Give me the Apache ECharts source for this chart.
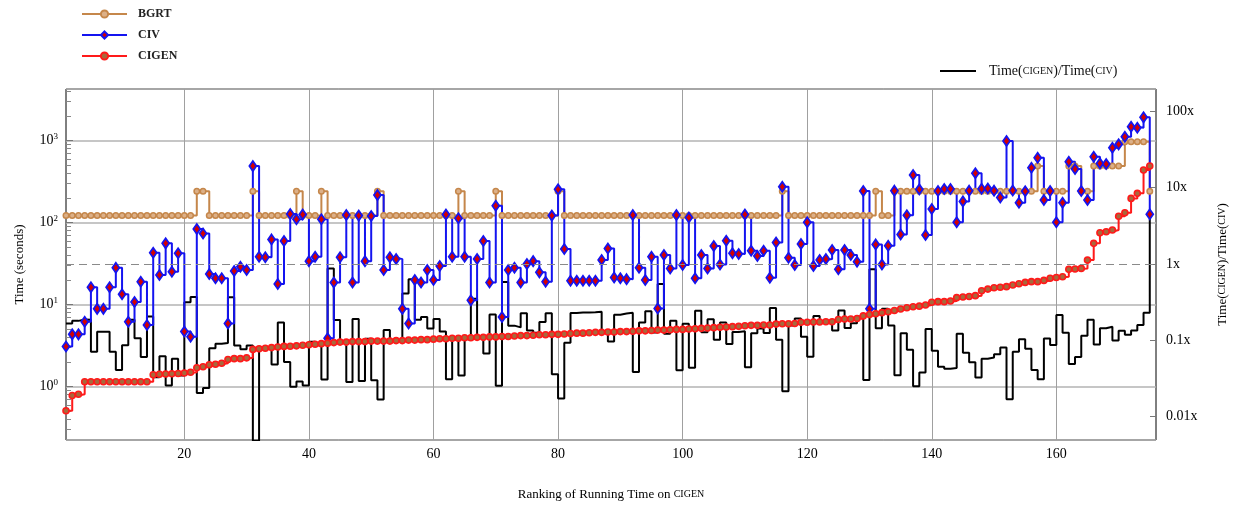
<!DOCTYPE html>
<html>
<head>
<meta charset="utf-8">
<title>Running time ranking</title>
<script src="https://cdn.jsdelivr.net/npm/echarts@6.0.0/dist/echarts.min.js"></script>
<style>
  html, body { margin: 0; padding: 0; background: #fff; }
  #chart { width: 1234px; height: 506px; }
</style>
</head>
<body>
<div id="chart"></div>
<script>
// time in seconds, ranked by cigen time (rank 1..175)
var civ = [
  3.1, 4.35, 4.35, 6.2, 16.3, 8.9, 8.9, 16.3, 28.3, 13.4,
  6.2, 10.8, 19.1, 5.65, 43, 23, 56, 25.3, 42.3, 4.7,
  4.07, 84, 74, 23.7, 21, 21, 5.9, 25.8, 29, 26.5,
  490, 38.5, 38, 62.6, 17.9, 59.8, 128, 110, 126, 34,
  38.5, 110, 3.9, 18.7, 37.8, 124, 18.7, 122, 34, 121,
  217, 26.5, 37.8, 36, 8.9, 5.9, 20, 18.7, 26.5, 20,
  29.6, 126, 38.5, 113, 38.5, 11.3, 36, 59.8, 18.7, 161,
  7.1, 26.5, 28.3, 18.7, 31.3, 34, 24.8, 19.1, 122, 255,
  47.7, 19.6, 19.6, 19.6, 19.6, 19.6, 35, 48.6, 21.5, 21,
  20.5, 124, 28.3, 20, 38.5, 9.0, 40.4, 27.7, 124, 30.5,
  116, 21, 40.4, 27.7, 52, 31, 60.3, 42.3, 41.5, 126,
  45.6, 39.3, 45.6, 21.3, 57.5, 275, 37.4, 30.5, 55, 101,
  29.6, 35, 36, 46.4, 27, 46.4, 40.4, 33.4, 243, 8.9,
  54.4, 31, 52.4, 246, 72, 123, 381, 255, 70.7, 147,
  243, 258, 258, 101, 182, 246, 400, 260, 262, 246,
  203, 991, 247, 175, 242, 469, 621, 189, 243, 101,
  175, 554, 451, 243, 189, 638, 529, 519, 822, 902,
  1119, 1482, 1442, 1926, 127
];
var cigen = [
  0.51, 0.78, 0.81, 1.15, 1.15, 1.15, 1.15, 1.15, 1.15, 1.15,
  1.15, 1.15, 1.15, 1.15, 1.4, 1.42, 1.43, 1.44, 1.45, 1.47,
  1.5, 1.7, 1.75, 1.85, 1.88, 1.93, 2.15, 2.2, 2.2, 2.25,
  2.85, 2.9, 2.95, 3.0, 3.05, 3.1, 3.12, 3.15, 3.2, 3.25,
  3.3, 3.35, 3.4, 3.45, 3.5, 3.5, 3.55, 3.55, 3.55, 3.6,
  3.6, 3.6, 3.6, 3.65, 3.65, 3.7, 3.7, 3.75, 3.75, 3.8,
  3.85, 3.85, 3.9, 3.9, 3.95, 3.95, 4.0, 4.0, 4.05, 4.05,
  4.1, 4.1, 4.15, 4.2, 4.2, 4.25, 4.3, 4.3, 4.35, 4.35,
  4.4, 4.45, 4.5, 4.5, 4.55, 4.6, 4.6, 4.65, 4.65, 4.7,
  4.7, 4.75, 4.8, 4.8, 4.85, 4.9, 4.9, 4.95, 5.0, 5.0,
  5.05, 5.1, 5.15, 5.2, 5.25, 5.3, 5.35, 5.4, 5.45, 5.55,
  5.6, 5.6, 5.65, 5.65, 5.8, 5.85, 5.85, 5.9, 6.1, 6.1,
  6.15, 6.15, 6.2, 6.2, 6.6, 6.7, 6.7, 6.8, 7.3, 7.6,
  7.77, 8.0, 8.2, 8.5, 8.85, 9.2, 9.45, 9.6, 9.9, 10.7,
  10.9, 10.9, 11.1, 12.2, 12.4, 12.6, 12.9, 14.8, 15.5, 16.1,
  16.3, 16.6, 17.4, 18.0, 18.7, 19.1, 19.1, 19.8, 21, 21.5,
  21.9, 27, 27.2, 27.7, 35, 56, 75.5, 77.7, 81.5, 120,
  132, 198, 228, 439, 491
];
var bgrt = [
  122, 122, 122, 122, 122, 122, 122, 122, 122, 122,
  122, 122, 122, 122, 122, 122, 122, 122, 122, 122,
  122, 242, 242, 122, 122, 122, 122, 122, 122, 122,
  242, 122, 122, 122, 122, 122, 122, 242, 122, 122,
  122, 242, 122, 122, 122, 122, 122, 122, 122, 122,
  242, 122, 122, 122, 122, 122, 122, 122, 122, 122,
  122, 122, 122, 242, 122, 122, 122, 122, 122, 242,
  122, 122, 122, 122, 122, 122, 122, 122, 122, 242,
  122, 122, 122, 122, 122, 122, 122, 122, 122, 122,
  122, 122, 122, 122, 122, 122, 122, 122, 122, 122,
  122, 122, 122, 122, 122, 122, 122, 122, 122, 122,
  122, 122, 122, 122, 122, 242, 122, 122, 122, 122,
  122, 122, 122, 122, 122, 122, 122, 122, 122, 122,
  242, 122, 122, 242, 242, 242, 242, 242, 242, 242,
  242, 242, 242, 242, 242, 242, 242, 242, 242, 242,
  242, 242, 242, 242, 242, 242, 490, 242, 242, 242,
  242, 490, 490, 242, 242, 490, 490, 490, 490, 490,
  970, 970, 970, 970, 242
];
// Time(cigen)/Time(civ)
var ratio = [
  0.165, 0.179, 0.186, 0.185, 0.0706, 0.129, 0.129, 0.0706, 0.0406, 0.0858,
  0.185, 0.106, 0.0602, 0.204, 0.0326, 0.0617, 0.0255, 0.0569, 0.0343, 0.313,
  0.369, 0.0202, 0.0236, 0.078, 0.0895, 0.0919, 0.364, 0.0853, 0.0759, 0.0849,
  0.0048, 0.0753, 0.0776, 0.0479, 0.170, 0.0518, 0.0244, 0.0286, 0.0254, 0.0956,
  0.0857, 0.0305, 0.872, 0.184, 0.0926, 0.0282, 0.190, 0.0291, 0.104, 0.0298,
  0.0166, 0.136, 0.0952, 0.101, 0.410, 0.627, 0.185, 0.201, 0.142, 0.190,
  0.130, 0.0306, 0.101, 0.0345, 0.103, 0.350, 0.111, 0.0669, 0.217, 0.0252,
  0.577, 0.155, 0.147, 0.225, 0.134, 0.125, 0.173, 0.225, 0.0357, 0.0171,
  0.0922, 0.227, 0.230, 0.230, 0.232, 0.235, 0.131, 0.0957, 0.216, 0.224,
  0.229, 0.0383, 0.170, 0.240, 0.126, 0.544, 0.121, 0.179, 0.0403, 0.164,
  0.0435, 0.243, 0.127, 0.188, 0.101, 0.171, 0.0887, 0.128, 0.131, 0.0440,
  0.123, 0.142, 0.124, 0.265, 0.101, 0.0213, 0.156, 0.193, 0.111, 0.0604,
  0.208, 0.176, 0.172, 0.134, 0.244, 0.144, 0.166, 0.204, 0.030, 0.854,
  0.143, 0.258, 0.156, 0.0346, 0.123, 0.0748, 0.0248, 0.0376, 0.140, 0.0728,
  0.0449, 0.0422, 0.0430, 0.121, 0.0681, 0.0512, 0.0323, 0.0569, 0.0592, 0.0654,
  0.0803, 0.0168, 0.0704, 0.103, 0.0773, 0.0407, 0.0308, 0.105, 0.0864, 0.213,
  0.125, 0.0487, 0.0603, 0.114, 0.185, 0.0878, 0.143, 0.150, 0.0991, 0.133,
  0.118, 0.134, 0.158, 0.228, 3.87
];
var xTicks = [20, 40, 60, 80, 100, 120, 140, 160];

var ranks = [];
for (var r = 1; r <= civ.length; r++) ranks.push(r);
function pairs(vals) {
  return ranks.map(function (x, i) { return [x, vals[i]]; });
}

// axis ranges
var yMin = 0.224, yMax = 4270;
var rMin = 0.0049, rMax = 197;

// minor ticks 2..9 of every decade on the left axis (drawn on a hidden linear axis in log space)
var minorTicks = [];
for (var e = -1; e <= 3; e++) {
  for (var k = 2; k <= 9; k++) {
    var v = k * Math.pow(10, e);
    if (v > yMin && v < yMax) minorTicks.push(Math.log10(v));
  }
}

var FONT = "'Liberation Serif', 'DejaVu Serif', serif";

var myChart = echarts.init(document.getElementById("chart"));
myChart.setOption({
  animation: false,
  textStyle: { fontFamily: FONT, color: "#000" },
  grid: {
    left: 66,
    right: 78,
    top: 89,
    bottom: 66,
    outerBoundsMode: "none",
    show: true,
    borderColor: "#000",
    borderWidth: 1,
  },
  legend: [
    {
      data: ["BGRT", "CIV", "CIGEN"],
      orient: "vertical",
      left: 76,
      top: 3,
      itemWidth: 45,
      itemHeight: 9,
      itemGap: 9,
      textStyle: { fontFamily: FONT, fontSize: 12, fontWeight: "bold", color: "#222", padding: [0, 0, 0, 6] },
    },
    {
      data: [{ name: "ratio", icon: "rect" }],
      left: 935,
      top: 59,
      itemWidth: 36,
      itemHeight: 2,
      formatter: function () {
        return "Time({s|CIGEN})/Time({s|CIV})";
      },
      textStyle: {
        fontFamily: FONT,
        fontSize: 14,
        color: "#111",
        padding: [0, 0, 0, 8],
        rich: { s: { fontFamily: FONT, fontSize: 10, color: "#111" } },
      },
    },
  ],
  xAxis: {
    type: "value",
    min: 1,
    max: 176,
    name: "Ranking of Running Time on {s|CIGEN}",
    nameLocation: "middle",
    nameGap: 48,
    nameTextStyle: {
      fontFamily: FONT,
      fontSize: 13,
      rich: { s: { fontFamily: FONT, fontSize: 10 } },
    },
    axisLine: { show: false },
    axisTick: { show: false, customValues: xTicks },
    axisLabel: { customValues: xTicks, fontSize: 14, margin: 7, color: "#000" },
    splitLine: { show: true, lineStyle: { color: "#a0a0a0", width: 1 } },
  },
  yAxis: [
    {
      type: "log",
      logBase: 10,
      min: yMin,
      max: yMax,
      position: "left",
      name: "Time (seconds)",
      nameLocation: "middle",
      nameRotate: 90,
      nameGap: 40,
      nameTextStyle: { fontFamily: FONT, fontSize: 13 },
      axisLine: { show: false },
      axisTick: { show: true, inside: true, length: 7, lineStyle: { color: "#777" } },
      axisLabel: {
        showMinLabel: false,
        showMaxLabel: false,
        margin: 8,
        formatter: function (v) {
          return "{b|10}{s|" + Math.round(Math.log10(v)) + "}";
        },
        rich: {
          b: { fontFamily: FONT, fontSize: 14, color: "#000" },
          s: { fontFamily: FONT, fontSize: 9, color: "#000", padding: [0, 0, 9, 0] },
        },
      },
      splitLine: { show: true, lineStyle: { color: "#b3b3b3", width: 1.5 } },
    },
    {
      type: "value",
      min: Math.log10(yMin),
      max: Math.log10(yMax),
      position: "left",
      axisLine: { show: false },
      axisLabel: { show: false },
      splitLine: { show: false },
      axisTick: {
        show: true,
        inside: true,
        length: 5,
        customValues: minorTicks,
        lineStyle: { color: "#888" },
      },
    },
    {
      type: "log",
      logBase: 10,
      min: rMin,
      max: rMax,
      position: "right",
      name: "Time({s|CIGEN})/Time({s|CIV})",
      nameLocation: "middle",
      nameRotate: 90,
      nameGap: 60,
      nameTextStyle: {
        fontFamily: FONT,
        fontSize: 13,
        rich: { s: { fontFamily: FONT, fontSize: 10 } },
      },
      axisLine: { show: false },
      axisTick: { show: true, inside: true, length: 6, lineStyle: { color: "#777" } },
      axisLabel: {
        showMinLabel: false,
        showMaxLabel: false,
        margin: 10,
        fontSize: 14,
        color: "#000",
        formatter: function (v) {
          return v + "x";
        },
      },
      splitLine: { show: false },
    },
  ],
  series: [
    {
      name: "ratio",
      type: "line",
      yAxisIndex: 2,
      step: "end",
      symbol: "none",
      data: pairs(ratio),
      lineStyle: { color: "#000", width: 2 },
      itemStyle: { color: "#000" },
      markLine: {
        silent: true,
        symbol: ["none", "none"],
        label: { show: false },
        lineStyle: { color: "#8a8a8a", type: [8, 5], width: 1 },
        data: [{ yAxis: 1 }],
      },
    },
    {
      name: "BGRT",
      type: "line",
      yAxisIndex: 0,
      step: "end",
      symbol: "circle",
      symbolSize: 5.5,
      showAllSymbol: true,
      data: pairs(bgrt),
      lineStyle: { color: "#c5874b", width: 2 },
      itemStyle: { color: "#dcb088", borderColor: "#c5874b", borderWidth: 1.5 },
    },
    {
      name: "CIV",
      type: "line",
      yAxisIndex: 0,
      step: "end",
      symbol: "diamond",
      symbolSize: [7, 10],
      showAllSymbol: true,
      data: pairs(civ),
      lineStyle: { color: "#1414f0", width: 2 },
      itemStyle: { color: "#d40000", borderColor: "#1414f0", borderWidth: 1.8 },
    },
    {
      name: "CIGEN",
      type: "line",
      yAxisIndex: 0,
      step: "end",
      symbol: "circle",
      symbolSize: 6,
      showAllSymbol: true,
      data: pairs(cigen),
      lineStyle: { color: "#ff1a1a", width: 2 },
      itemStyle: { color: "#a8683c", borderColor: "#ff1a1a", borderWidth: 1.6 },
    },
  ],
});
</script>
</body>
</html>
